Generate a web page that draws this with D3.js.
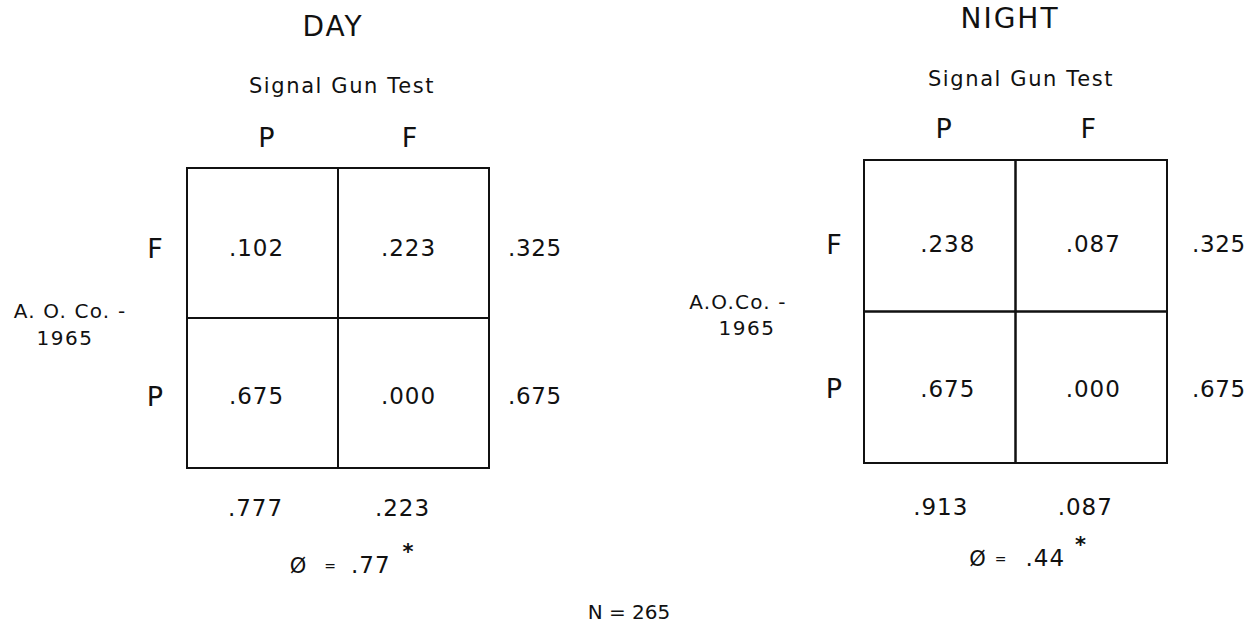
<!DOCTYPE html>
<html>
<head>
<meta charset="utf-8">
<script src="https://cdn.jsdelivr.net/npm/d3@7"></script>
<style>
  html, body { margin: 0; padding: 0; background: #fff; }
  svg { display: block; }
  text { font-family: "DejaVu Sans", "Liberation Sans", sans-serif; fill: #111; }
</style>
</head>
<body>
<svg id="chart" width="1249" height="629"></svg>
<script>
// ---- data ----
const panelTitles = ["DAY", "NIGHT"];
const colHeader = "Signal Gun Test";
const rowHeaderDay = ["A. O. Co. -", "1965"];
const rowHeaderNight = ["A.O.Co. -", "1965"];
const colCategories = ["P", "F"];
const rowCategories = ["F", "P"];
const dayValues = [[".102", ".223"], [".675", ".000"]];
const nightValues = [[".238", ".087"], [".675", ".000"]];
const dayRowTotals = [".325", ".675"];
const nightRowTotals = [".325", ".675"];
const dayColTotals = [".777", ".223"];
const nightColTotals = [".913", ".087"];
const phiValues = [".77", ".44"];
const sampleNote = "N = 265";

// ---- layout ----
const svg = d3.select("#chart");
const CAP = 0.365; // half cap-height ratio used to centre caps/digits vertically

function txt(g, x, y, s, fs, opts = {}) {
  return g.append("text")
    .attr("x", x).attr("y", y + CAP * fs)
    .attr("text-anchor", opts.anchor || "middle")
    .attr("font-size", fs)
    .attr("letter-spacing", opts.ls || 0)
    .text(s);
}

const panels = [
  { title: panelTitles[0], rh: rowHeaderDay, values: dayValues, rowTot: dayRowTotals, colTot: dayColTotals, phi: phiValues[0],
    x0: 187, x1: 489, y0: 168, y1: 468,
    titleX: 333, titleY: 26, headX: 342, headY: 85, colLabY: 137, colLabDx: [4, -4],
    rowLabX: 155, rowDy: [5, 3], colDx: [-6, -5],
    rhX: 70, rhY: 311, rh2X: 65, rh2Y: 338,
    totX: 508, colTotY: 508, colTotDx: [-7, -11],
    phiY: 565, phiDx: [-40, -8, 13, 70] },
  { title: panelTitles[1], rh: rowHeaderNight, values: nightValues, rowTot: nightRowTotals, colTot: nightColTotals, phi: phiValues[1],
    x0: 864, x1: 1167, y0: 160, y1: 463,
    titleX: 1010, titleY: 18, headX: 1021, headY: 78, colLabY: 128, colLabDx: [4, -3],
    rowLabX: 834, rowDy: [8, 1], colDx: [8, 2],
    rhX: 738, rhY: 302, rh2X: 747, rh2Y: 328,
    totX: 1192, colTotY: 507, colTotDx: [1, -6],
    phiY: 558, phiDx: [-38, -15, 10, 65] }
];

panels.forEach(p => {
  const g = svg.append("g");
  const x = d3.scaleBand().domain(colCategories).range([p.x0, p.x1]).padding(0);
  const y = d3.scaleBand().domain(rowCategories).range([p.y0, p.y1]).padding(0);

  txt(g, p.titleX, p.titleY, p.title, 28, { ls: 2 });
  txt(g, p.headX, p.headY, colHeader, 21, { ls: 1.6 });

  // column labels
  colCategories.forEach((c, j) => txt(g, x(c) + x.bandwidth() / 2 + p.colLabDx[j], p.colLabY, c, 27));
  // row labels
  rowCategories.forEach((r, i) => txt(g, p.rowLabX, y(r) + y.bandwidth() / 2 + p.rowDy[i], r, 27));

  // cells
  const cells = [];
  rowCategories.forEach((r, i) => colCategories.forEach((c, j) => cells.push({ r, c, i, j, v: p.values[i][j] })));
  g.selectAll("rect.cell").data(cells).join("rect")
    .attr("class", "cell")
    .attr("x", d => x(d.c)).attr("y", d => y(d.r))
    .attr("width", x.bandwidth()).attr("height", y.bandwidth())
    .attr("fill", "none").attr("stroke", "#111").attr("stroke-width", 2);
  cells.forEach(d => txt(g, x(d.c) + x.bandwidth() / 2 + p.colDx[d.j], y(d.r) + y.bandwidth() / 2 + p.rowDy[d.i], d.v, 23, { ls: 1 }));

  // row totals
  rowCategories.forEach((r, i) => txt(g, p.totX, y(r) + y.bandwidth() / 2 + p.rowDy[i], p.rowTot[i], 23, { ls: 0.6, anchor: "start" }));
  // column totals
  colCategories.forEach((c, j) => txt(g, x(c) + x.bandwidth() / 2 + p.colTotDx[j], p.colTotY, p.colTot[j], 23, { ls: 1 }));

  // row header
  txt(g, p.rhX, p.rhY, p.rh[0], 20, { ls: 1.2 });
  txt(g, p.rh2X, p.rh2Y, p.rh[1], 20, { ls: 1.5 });

  // phi
  const cx = (p.x0 + p.x1) / 2;
  txt(g, cx + p.phiDx[0], p.phiY, "Ø", 21);
  txt(g, cx + p.phiDx[1], p.phiY + 1, "=", 14);
  txt(g, cx + p.phiDx[2], p.phiY, p.phi, 23, { ls: 1, anchor: "start" });
  txt(g, cx + p.phiDx[3], p.phiY - 14, "*", 21).attr("font-weight", "bold");
});

txt(svg, 629, 612, sampleNote, 20, { ls: 0 });
</script>
</body>
</html>
